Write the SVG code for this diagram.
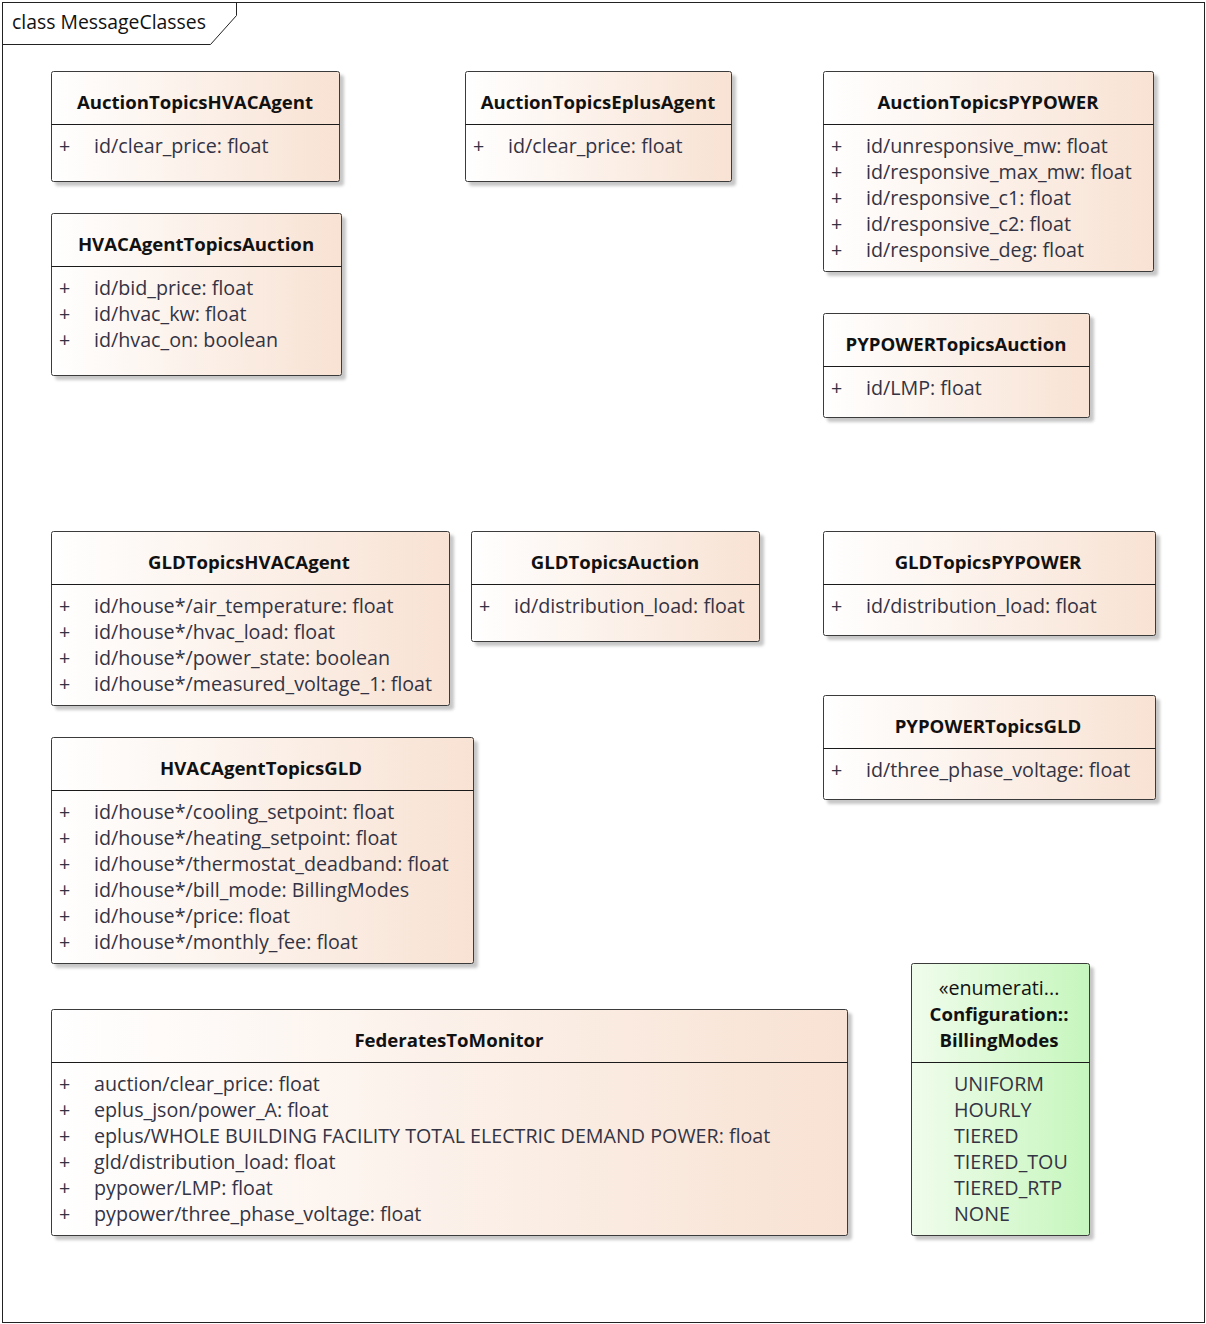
<svg xmlns="http://www.w3.org/2000/svg" width="1206" height="1324" viewBox="0 0 1206 1324">
<defs>
<linearGradient id="gc" x1="0" y1="0" x2="1" y2="0">
<stop offset="0" stop-color="#ffffff"/>
<stop offset="1" stop-color="#f8e2d3"/>
</linearGradient>
<linearGradient id="ge" x1="0" y1="0" x2="1" y2="0">
<stop offset="0" stop-color="#f0fcec"/>
<stop offset="1" stop-color="#c6f6bd"/>
</linearGradient>
<filter id="sh" x="-5%" y="-5%" width="115%" height="115%">
<feDropShadow dx="4" dy="4" stdDeviation="1.5" flood-color="#000" flood-opacity="0.22"/>
</filter>
</defs>
<style>
.box{fill:url(#gc);stroke:#3a3a3a;stroke-width:1;filter:url(#sh)}
.ebox{fill:url(#ge);stroke:#3a3a3a;stroke-width:1;filter:url(#sh)}
.div{stroke:#1a1a1a;stroke-width:1}
.t{font-family:"Open Sans","Noto Sans",sans-serif;font-size:18.6px;font-weight:bold;fill:#111;text-anchor:middle}
.a{font-family:"Open Sans","Noto Sans",sans-serif;font-size:19.7px;fill:#333344}
.fr{font-family:"Open Sans","Noto Sans",sans-serif;font-size:19.4px;fill:#111}
</style>
<rect x="0" y="0" width="1206" height="1324" fill="#fff"/>
<g id="frame">
<rect x="2.5" y="2.5" width="1202" height="1320" fill="none" stroke="#222"/>
<path d="M2.5 44.5 H210.5 L236.5 15.5 V2.5" fill="none" stroke="#222"/>
<text class="fr" x="12" y="29">class MessageClasses</text>
</g>
<g id="connectors"/>

<g id="AuctionTopicsHVACAgent">
<rect class="box" x="51.5" y="71.5" width="288" height="110" rx="2"/>
<line class="div" x1="51.5" y1="124.5" x2="339.5" y2="124.5"/>
<text class="t" x="195" y="109">AuctionTopicsHVACAgent</text>
<text class="a" x="59" y="153">+</text><text class="a" x="94" y="153">id/clear_price: float</text>
</g>

<g id="AuctionTopicsEplusAgent">
<rect class="box" x="465.5" y="71.5" width="266" height="110" rx="2"/>
<line class="div" x1="465.5" y1="124.5" x2="731.5" y2="124.5"/>
<text class="t" x="598" y="109">AuctionTopicsEplusAgent</text>
<text class="a" x="473" y="153">+</text><text class="a" x="508" y="153">id/clear_price: float</text>
</g>

<g id="AuctionTopicsPYPOWER">
<rect class="box" x="823.5" y="71.5" width="330" height="200" rx="2"/>
<line class="div" x1="823.5" y1="124.5" x2="1153.5" y2="124.5"/>
<text class="t" x="988" y="109">AuctionTopicsPYPOWER</text>
<text class="a" x="831" y="153">+</text><text class="a" x="866" y="153">id/unresponsive_mw: float</text>
<text class="a" x="831" y="179">+</text><text class="a" x="866" y="179">id/responsive_max_mw: float</text>
<text class="a" x="831" y="205">+</text><text class="a" x="866" y="205">id/responsive_c1: float</text>
<text class="a" x="831" y="231">+</text><text class="a" x="866" y="231">id/responsive_c2: float</text>
<text class="a" x="831" y="257">+</text><text class="a" x="866" y="257">id/responsive_deg: float</text>
</g>

<g id="HVACAgentTopicsAuction">
<rect class="box" x="51.5" y="213.5" width="290" height="162" rx="2"/>
<line class="div" x1="51.5" y1="266.5" x2="341.5" y2="266.5"/>
<text class="t" x="196" y="251">HVACAgentTopicsAuction</text>
<text class="a" x="59" y="295">+</text><text class="a" x="94" y="295">id/bid_price: float</text>
<text class="a" x="59" y="321">+</text><text class="a" x="94" y="321">id/hvac_kw: float</text>
<text class="a" x="59" y="347">+</text><text class="a" x="94" y="347">id/hvac_on: boolean</text>
</g>

<g id="PYPOWERTopicsAuction">
<rect class="box" x="823.5" y="313.5" width="266" height="104" rx="2"/>
<line class="div" x1="823.5" y1="366.5" x2="1089.5" y2="366.5"/>
<text class="t" x="956" y="351">PYPOWERTopicsAuction</text>
<text class="a" x="831" y="395">+</text><text class="a" x="866" y="395">id/LMP: float</text>
</g>

<g id="GLDTopicsHVACAgent">
<rect class="box" x="51.5" y="531.5" width="398" height="174" rx="2"/>
<line class="div" x1="51.5" y1="584.5" x2="449.5" y2="584.5"/>
<text class="t" x="249" y="569">GLDTopicsHVACAgent</text>
<text class="a" x="59" y="613">+</text><text class="a" x="94" y="613">id/house*/air_temperature: float</text>
<text class="a" x="59" y="639">+</text><text class="a" x="94" y="639">id/house*/hvac_load: float</text>
<text class="a" x="59" y="665">+</text><text class="a" x="94" y="665">id/house*/power_state: boolean</text>
<text class="a" x="59" y="691">+</text><text class="a" x="94" y="691">id/house*/measured_voltage_1: float</text>
</g>

<g id="GLDTopicsAuction">
<rect class="box" x="471.5" y="531.5" width="288" height="110" rx="2"/>
<line class="div" x1="471.5" y1="584.5" x2="759.5" y2="584.5"/>
<text class="t" x="615" y="569">GLDTopicsAuction</text>
<text class="a" x="479" y="613">+</text><text class="a" x="514" y="613">id/distribution_load: float</text>
</g>

<g id="GLDTopicsPYPOWER">
<rect class="box" x="823.5" y="531.5" width="332" height="104" rx="2"/>
<line class="div" x1="823.5" y1="584.5" x2="1155.5" y2="584.5"/>
<text class="t" x="988" y="569">GLDTopicsPYPOWER</text>
<text class="a" x="831" y="613">+</text><text class="a" x="866" y="613">id/distribution_load: float</text>
</g>

<g id="PYPOWERTopicsGLD">
<rect class="box" x="823.5" y="695.5" width="332" height="104" rx="2"/>
<line class="div" x1="823.5" y1="748.5" x2="1155.5" y2="748.5"/>
<text class="t" x="988" y="733">PYPOWERTopicsGLD</text>
<text class="a" x="831" y="777">+</text><text class="a" x="866" y="777">id/three_phase_voltage: float</text>
</g>

<g id="HVACAgentTopicsGLD">
<rect class="box" x="51.5" y="737.5" width="422" height="226" rx="2"/>
<line class="div" x1="51.5" y1="790.5" x2="473.5" y2="790.5"/>
<text class="t" x="261" y="775">HVACAgentTopicsGLD</text>
<text class="a" x="59" y="819">+</text><text class="a" x="94" y="819">id/house*/cooling_setpoint: float</text>
<text class="a" x="59" y="845">+</text><text class="a" x="94" y="845">id/house*/heating_setpoint: float</text>
<text class="a" x="59" y="871">+</text><text class="a" x="94" y="871">id/house*/thermostat_deadband: float</text>
<text class="a" x="59" y="897">+</text><text class="a" x="94" y="897">id/house*/bill_mode: BillingModes</text>
<text class="a" x="59" y="923">+</text><text class="a" x="94" y="923">id/house*/price: float</text>
<text class="a" x="59" y="949">+</text><text class="a" x="94" y="949">id/house*/monthly_fee: float</text>
</g>

<g id="FederatesToMonitor">
<rect class="box" x="51.5" y="1009.5" width="796" height="226" rx="2"/>
<line class="div" x1="51.5" y1="1062.5" x2="847.5" y2="1062.5"/>
<text class="t" x="449" y="1047">FederatesToMonitor</text>
<text class="a" x="59" y="1091">+</text><text class="a" x="94" y="1091">auction/clear_price: float</text>
<text class="a" x="59" y="1117">+</text><text class="a" x="94" y="1117">eplus_json/power_A: float</text>
<text class="a" x="59" y="1143">+</text><text class="a" x="94" y="1143">eplus/WHOLE BUILDING FACILITY TOTAL ELECTRIC DEMAND POWER: float</text>
<text class="a" x="59" y="1169">+</text><text class="a" x="94" y="1169">gld/distribution_load: float</text>
<text class="a" x="59" y="1195">+</text><text class="a" x="94" y="1195">pypower/LMP: float</text>
<text class="a" x="59" y="1221">+</text><text class="a" x="94" y="1221">pypower/three_phase_voltage: float</text>
</g>

<g id="BillingModes">
<rect class="ebox" x="911.5" y="963.5" width="178" height="272" rx="2"/>
<line class="div" x1="911.5" y1="1062.5" x2="1089.5" y2="1062.5"/>
<text class="a" x="999" y="995" style="text-anchor:middle;fill:#111">«enumerati...</text>
<text class="t" x="999" y="1021">Configuration::</text>
<text class="t" x="999" y="1047">BillingModes</text>
<text class="a" x="954" y="1091">UNIFORM</text>
<text class="a" x="954" y="1117">HOURLY</text>
<text class="a" x="954" y="1143">TIERED</text>
<text class="a" x="954" y="1169">TIERED_TOU</text>
<text class="a" x="954" y="1195">TIERED_RTP</text>
<text class="a" x="954" y="1221">NONE</text>
</g>
</svg>
